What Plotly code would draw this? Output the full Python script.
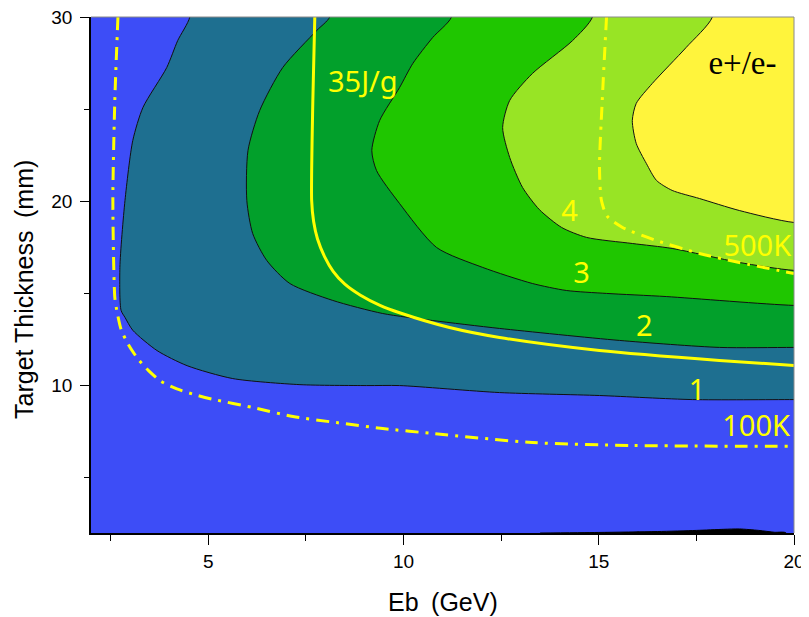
import plotly.graph_objects as go

# ---- data ----
# contour boundaries (Eb in GeV, thickness in mm), from top edge to right edge
b01_x = [4.53, 4.22, 3.94, 3.33, 3.07, 2.87, 2.74, 2.77, 2.87, 3.07, 3.69, 4.46, 5.63, 7.35, 9.06, 9.90, 12.46, 15.02, 17.40, 20.0]
b01_y = [30.0, 28.72, 27.26, 25.09, 23.30, 20.04, 16.41, 14.08, 13.70, 13.0, 11.9, 11.08, 10.38, 10.05, 10.0, 10.0, 9.62, 9.46, 9.24, 9.24]

b12_x = [8.11, 7.78, 6.91, 6.32, 6.02, 5.99, 6.14, 6.50, 7.09, 8.19, 9.47, 10.75, 12.46, 15.53, 18.09, 20.0]
b12_y = [30.0, 29.27, 27.26, 24.93, 22.76, 20.04, 18.25, 16.79, 15.54, 14.62, 13.91, 13.53, 13.10, 12.45, 12.07, 12.07]

b23_x = [11.23, 10.75, 10.24, 9.90, 9.39, 9.19, 9.31, 9.90, 10.85, 12.03, 13.30, 14.17, 15.20, 16.73, 20.0]
b23_y = [30.0, 28.89, 27.48, 26.17, 24.38, 22.76, 21.67, 19.88, 17.49, 16.41, 15.54, 15.16, 15.0, 14.83, 14.35]

b34_x = [14.84, 14.33, 13.30, 12.72, 12.54, 12.72, 13.05, 13.48, 14.05, 14.69, 15.86, 16.88, 18.60, 20.0]
b34_y = [30.0, 28.72, 26.93, 25.47, 24.0, 22.38, 20.75, 19.55, 18.58, 18.04, 17.71, 17.44, 16.68, 16.25]

b45_x = [17.91, 17.24, 16.37, 15.96, 15.86, 15.96, 16.22, 16.48, 16.88, 17.58, 18.60, 20.0]
b45_y = [30.0, 28.35, 26.39, 25.31, 24.38, 23.14, 22.05, 21.13, 20.59, 20.15, 19.50, 18.85]

# small dark sliver along the bottom edge
b_low_x = [13.5, 15.0, 16.5, 17.5, 18.2, 18.6, 19.1, 19.5, 19.8]
b_low_y = [2.0, 2.03, 2.08, 2.14, 2.2, 2.22, 2.14, 2.04, 2.0]

# overlay lines
j35_x = [7.73, 7.68, 7.65, 7.70, 7.80, 7.98, 8.20, 8.50, 8.90, 9.40, 9.90, 11.18, 12.46, 15.02, 18.09, 20.0]
j35_y = [30.0, 25.47, 20.04, 18.90, 17.95, 17.00, 16.20, 15.50, 14.90, 14.35, 13.95, 13.15, 12.61, 11.90, 11.36, 11.09]

k100_x = [2.69, 2.61, 2.56, 2.61, 2.66, 2.77, 2.95, 3.20, 3.48, 3.80, 4.20, 4.70, 5.09, 6.14, 7.17, 8.29, 9.47, 10.75, 13.30, 15.86, 20.0]
k100_y = [30.0, 25.47, 20.04, 14.78, 14.08, 13.05, 12.25, 11.45, 10.80, 10.22, 9.82, 9.48, 9.27, 8.81, 8.32, 7.99, 7.67, 7.40, 6.91, 6.75, 6.70]

k500_x = [15.20, 15.09, 15.02, 15.07, 15.22, 15.61, 16.48, 17.58, 18.60, 20.0]
k500_y = [30.0, 25.47, 21.83, 20.04, 19.18, 18.58, 17.87, 17.17, 16.68, 16.08]

level_labels = ["1", "2", "3", "4"]
level_label_x = [17.52, 16.17, 14.56, 14.25]
level_label_y = [9.63, 13.10, 15.97, 19.34]

line_labels = ["35J/g", "500K", "100K"]
line_label_x = [8.96, 19.06, 19.03]
line_label_y = [26.34, 17.44, 7.67]

x_ticks = [5, 10, 15, 20]
y_ticks = [10, 20, 30]
X_RANGE = [2, 20]
Y_RANGE = [2, 30]

# ---- styling ----
BLUE = "#3d4df7"
band_colors = ["#1e6f90", "#02a02b", "#1fc600", "#98e425", "#fff43c"]
LINE_YELLOW = "#ffff00"

fig = go.Figure()

def region(xs, ys, color):
    # close region beyond the top-right of the plotting window
    px = [xs[0]] + list(xs) + [X_RANGE[1] + 2, X_RANGE[1] + 2, xs[0]]
    py = [Y_RANGE[1] + 2] + list(ys) + [ys[-1], Y_RANGE[1] + 2, Y_RANGE[1] + 2]
    fig.add_trace(go.Scatter(x=px, y=py, mode="lines", fill="toself", fillcolor=color,
                             line=dict(color="#111111", width=1, shape="spline", smoothing=0.7),
                             hoverinfo="skip", showlegend=False))

boundaries = [(b01_x, b01_y), (b12_x, b12_y), (b23_x, b23_y), (b34_x, b34_y), (b45_x, b45_y)]
for (bx, by), col in zip(boundaries, band_colors):
    region(bx, by, col)

# dark sliver at the bottom
fig.add_trace(go.Scatter(x=b_low_x + [b_low_x[-1], b_low_x[0]],
                         y=b_low_y + [Y_RANGE[0] - 1, Y_RANGE[0] - 1],
                         mode="lines", fill="toself", fillcolor="#000000",
                         line=dict(color="#000000", width=1, shape="spline", smoothing=0.7),
                         hoverinfo="skip", showlegend=False))

fig.add_trace(go.Scatter(x=j35_x, y=j35_y, mode="lines",
                         line=dict(color=LINE_YELLOW, width=3, shape="spline", smoothing=0.7),
                         hoverinfo="skip", showlegend=False))
for lx, ly in [(k100_x, k100_y), (k500_x, k500_y)]:
    fig.add_trace(go.Scatter(x=lx, y=ly, mode="lines",
                             line=dict(color=LINE_YELLOW, width=3, shape="spline", smoothing=0.7,
                                       dash="13px,7px,3px,7px"),
                             hoverinfo="skip", showlegend=False))

label_font = dict(family="Noto Sans", size=29, color=LINE_YELLOW)
fig.add_trace(go.Scatter(x=level_label_x, y=level_label_y, mode="text", text=level_labels,
                         textfont=label_font, hoverinfo="skip", showlegend=False))
fig.add_trace(go.Scatter(x=line_label_x, y=line_label_y, mode="text", text=line_labels,
                         textfont=label_font, hoverinfo="skip", showlegend=False))
fig.add_trace(go.Scatter(x=[18.68], y=[27.37], mode="text", text=["e+/e-"],
                         textfont=dict(family="Liberation Serif, Times New Roman, serif", size=33, color="black"),
                         hoverinfo="skip", showlegend=False))

axis_font = dict(family="Liberation Sans, Arial", size=19, color="black")
# the page body adds an 8px offset, so the figure is sized to fit the window with it
fig.update_layout(
    width=801, height=609,
    margin=dict(l=83, r=15, t=9, b=84),
    paper_bgcolor="white", plot_bgcolor=BLUE,
    xaxis=dict(range=X_RANGE, tickvals=x_ticks, ticks="outside", ticklen=10, tickwidth=1.2,
               tickcolor="black", showline=True, linecolor="black", linewidth=1.5,
               showgrid=False, zeroline=False, tickfont=axis_font, automargin=False,
               ticklabeloverflow="allow",
               minor=dict(dtick=2.5, tick0=0, ticks="outside", ticklen=6, tickwidth=1.2,
                          tickcolor="black", showgrid=False)),
    yaxis=dict(range=Y_RANGE, tickvals=y_ticks, ticks="outside", ticklen=9, tickwidth=1.2,
               tickcolor="black", showline=True, linecolor="black", linewidth=1.5,
               showgrid=False, zeroline=False, tickfont=axis_font, automargin=False,
               ticklabeloverflow="allow", ticklabelstandoff=4,
               minor=dict(dtick=5, tick0=0, ticks="outside", ticklen=5, tickwidth=1.2,
                          tickcolor="black", showgrid=False)),
    shapes=[
        dict(type="line", xref="paper", yref="paper", x0=0, x1=1, y0=1, y1=1,
             line=dict(color="#8a8a8a", width=1)),
        dict(type="line", xref="paper", yref="paper", x0=1, x1=1, y0=0, y1=1,
             line=dict(color="#8a8a8a", width=1)),
    ],
    annotations=[
        dict(text="Eb\u2002(GeV)", xref="paper", yref="paper", x=0.5, y=0,
             xanchor="center", yanchor="middle", yshift=-69, showarrow=False,
             font=dict(family="Liberation Sans, Arial", size=25, color="black")),
        dict(text="Target Thickness\u2002(mm)", xref="paper", yref="paper", x=0,
             y=(516 - 273) / 516, xanchor="center", yanchor="middle", xshift=-67,
             textangle=-90, showarrow=False,
             font=dict(family="Liberation Sans, Arial", size=25, color="black")),
    ],
)

fig.write_html("out.html")
